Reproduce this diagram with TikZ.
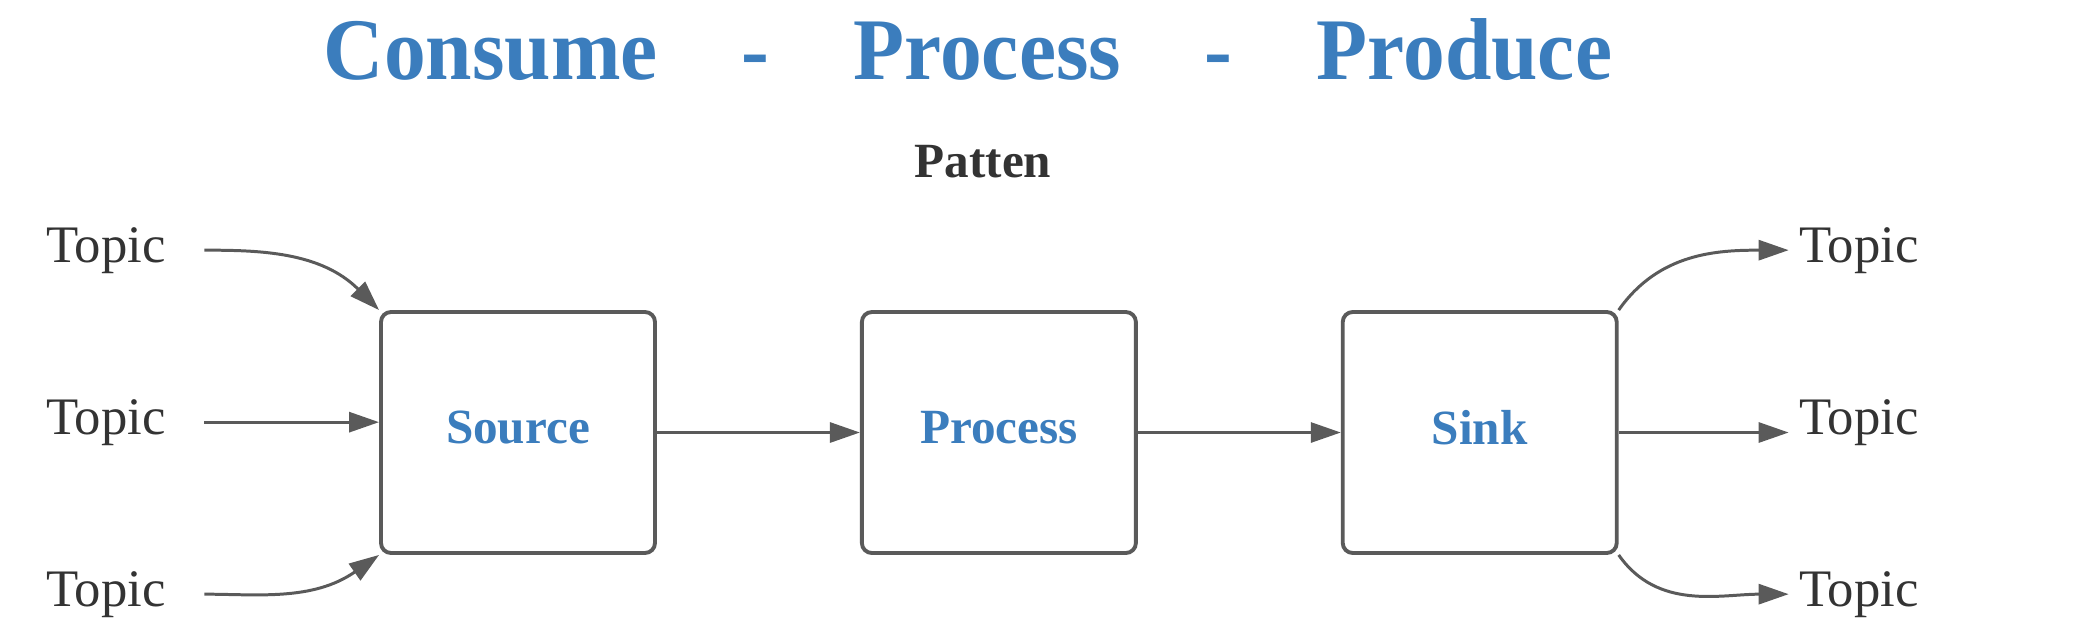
\documentclass[tikz,border=0pt]{standalone}
\usepackage{fontspec}
\setmainfont{Liberation Serif}
\newfontfamily\titrefont[FakeStretch=0.95]{Liberation Serif}
\usetikzlibrary{positioning,arrows.meta}
\definecolor{bleu}{RGB}{59,125,189}
\definecolor{gris}{RGB}{90,90,90}
\definecolor{encre}{RGB}{51,51,51}
\newcommand{\ecart}[0]{\hspace{0.84cm}}

\begin{document}
\begin{tikzpicture}[
	etape/.style={draw=gris,line width=1.1pt,rounded corners=0.1cm,minimum width=2.74cm,minimum height=2.41cm,
		text=bleu,text depth=0.1cm,font=\fontsize{14}{17}\selectfont\bfseries},
	topic/.style={text=encre,font=\fontsize{15}{18}\selectfont,inner xsep=0.1cm,anchor=base},
	fleche/.style={draw=gris,line width=0.85pt,-{Triangle[length=0.3cm,width=0.2cm]}}]
	\useasboundingbox (0,0) rectangle (20.96,6.34);
	% titres
	\node[anchor=base,text=bleu,font=\titrefont\fontsize{25}{30}\selectfont\bfseries] (titre) at (9.68,5.55)
		{Consume\ecart-\ecart Process\ecart-\ecart Produce};
	\node[anchor=base,text=encre,font=\fontsize{14}{17}\selectfont\bfseries] (patten) at (9.83,4.57) {Patten};
	% les trois etapes
	\node[etape] (src) at (5.18,2.015) {Source};
	\node[etape,right=2.03cm of src] (proc) {Process};
	\node[etape,right=2.03cm of proc] (sink) {Sink};
	% topics
	\node[topic] (tin1) at (1.06,3.72) {Topic};
	\node[topic] (tin2) at (1.06,2.00) {Topic};
	\node[topic] (tin3) at (1.06,0.28) {Topic};
	\node[topic] (tout1) at (18.59,3.72) {Topic};
	\node[topic] (tout2) at (18.59,2.00) {Topic};
	\node[topic] (tout3) at (18.59,0.28) {Topic};
	% fleches
	\draw[fleche,shorten <=0.28cm] (tin1.east) to[out=0,in=135] (src.north west);
	\draw[fleche,shorten <=0.28cm] (tin2.east) -- (tin2.east -| src.west);
	\draw[fleche,shorten <=0.28cm] (tin3.east) to[out=0,in=215] (src.south west);
	\draw[fleche] (src) -- (proc);
	\draw[fleche] (proc) -- (sink);
	\draw[fleche] (sink.north east) to[out=55,in=180] (tout1.west);
	\draw[fleche] (sink.east) -- (sink.east -| tout2.west);
	\draw[fleche] (sink.south east) to[out=-55,in=180] (tout3.west);
\end{tikzpicture}
\end{document}
